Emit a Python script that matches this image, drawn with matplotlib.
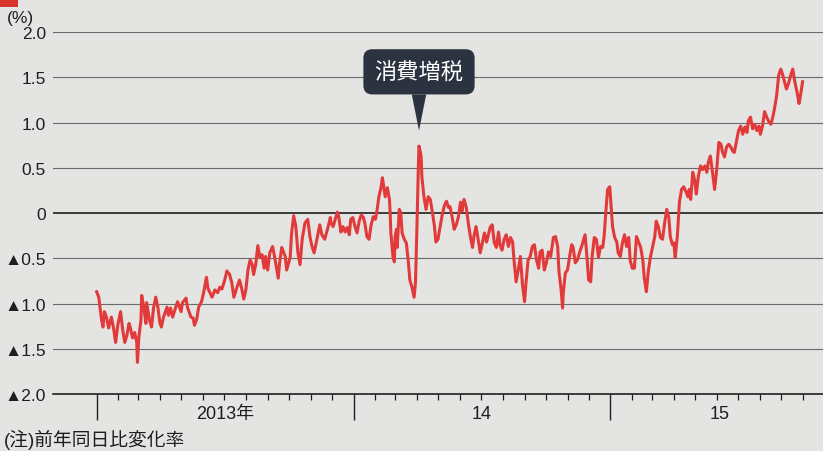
import numpy as np
import matplotlib
matplotlib.use('Agg')
from matplotlib import pyplot as plt
import matplotlib.dates as mdates
from matplotlib.patches import Rectangle
from matplotlib.ticker import FixedLocator

plt.rcParams['font.family'] = ['Liberation Sans', 'Noto Sans CJK JP', 'DejaVu Sans']
plt.rcParams['axes.unicode_minus'] = False

# 前年同日比変化率 (%), 2013-01-01 からの経過日数
start = np.datetime64('2013-01-01')
days = [
    0, 3, 7, 9, 11, 14, 17, 21, 24, 27, 30, 34, 37, 40, 43, 46, 48, 51, 54, 57,
    58, 60, 63, 64, 67, 70, 71, 75, 78, 81, 84, 87, 90, 92, 95, 100, 102, 105, 108, 112,
    115, 120, 122, 127, 129, 134, 137, 139, 142, 145, 149, 152, 156, 158, 161, 164, 168, 172, 175, 178,
    182, 185, 189, 192, 195, 199, 203, 206, 209, 212, 215, 218, 221, 223, 226, 229, 232, 235, 238, 240,
    243, 246, 250, 253, 258, 260, 263, 268, 270, 275, 277, 280, 283, 286, 289, 292, 296, 300, 303, 306,
    309, 313, 317, 320, 324, 329, 332, 333, 336, 339, 342, 344, 347, 350, 353, 356, 359, 361, 364, 367,
    370, 373, 376, 379, 381, 384, 387, 390, 393, 396, 398, 401, 404, 406, 408, 410, 413, 416, 417, 418,
    421, 423, 424, 426, 427, 430, 432, 434, 437, 440, 443, 445, 448, 451, 453, 455, 457, 458, 461, 462,
    465, 468, 471, 474, 477, 480, 482, 485, 488, 491, 494, 497, 500, 502, 505, 508, 511, 514, 517, 519,
    522, 525, 528, 531, 534, 536, 539, 542, 545, 548, 551, 554, 556, 559, 562, 565, 568, 571, 573, 576,
    579, 582, 585, 588, 591, 593, 596, 599, 602, 605, 608, 610, 613, 616, 619, 622, 625, 628, 630, 633,
    636, 639, 642, 645, 649, 652, 655, 657, 660, 662, 663, 666, 669, 672, 675, 677, 680, 683, 686, 689,
    692, 694, 697, 699, 702, 704, 707, 710, 713, 716, 719, 721, 724, 726, 729, 730, 733, 736, 739, 741,
    744, 747, 750, 753, 756, 758, 761, 764, 767, 770, 773, 776, 778, 781, 784, 787, 790, 793, 795, 798,
    801, 804, 807, 810, 813, 815, 818, 820, 822, 825, 828, 831, 834, 837, 840, 842, 844, 847, 850, 852,
    855, 858, 861, 864, 867, 869, 872, 875, 878, 881, 884, 887, 889, 892, 895, 898, 901, 904, 906, 909,
    912, 915, 918, 921, 924, 926, 929, 932, 935, 938, 941, 943, 946, 949, 952, 955, 958, 961, 963, 966,
    969, 972, 975, 978, 980, 983, 986, 989, 992, 995, 998, 1000, 1003,
]
values = [
    -0.87, -0.93, -1.18, -1.26, -1.09, -1.15, -1.27, -1.15, -1.27, -1.43, -1.24, -1.09, -1.29, -1.43, -1.35, -1.22, -1.27, -1.38, -1.32, -1.43,
    -1.65, -1.37, -1.18, -0.91, -1.04, -1.22, -0.99, -1.18, -1.26, -1.04, -0.93, -1.04, -1.22, -1.26, -1.15, -1.04, -1.13, -1.05, -1.15, -1.05,
    -0.98, -1.09, -0.99, -0.94, -1.04, -1.15, -1.16, -1.24, -1.18, -1.04, -0.98, -0.88, -0.71, -0.83, -0.88, -0.93, -0.85, -0.88, -0.82, -0.84,
    -0.74, -0.64, -0.68, -0.77, -0.93, -0.83, -0.74, -0.83, -0.95, -0.85, -0.63, -0.52, -0.57, -0.68, -0.57, -0.36, -0.49, -0.46, -0.61, -0.48,
    -0.63, -0.44, -0.37, -0.49, -0.72, -0.55, -0.38, -0.48, -0.63, -0.49, -0.22, -0.03, -0.15, -0.44, -0.57, -0.29, -0.11, -0.07, -0.26, -0.37,
    -0.44, -0.29, -0.13, -0.24, -0.29, -0.15, -0.05, -0.11, -0.15, -0.07, 0.01, -0.04, -0.21, -0.15, -0.21, -0.16, -0.24, -0.07, -0.05, -0.15,
    -0.22, -0.09, -0.02, -0.05, -0.11, -0.26, -0.29, -0.13, -0.04, -0.07, 0.01, 0.18, 0.28, 0.39, 0.29, 0.18, 0.28, 0.15, 0.01, -0.22,
    -0.48, -0.54, -0.26, -0.18, -0.38, 0.04, 0.01, -0.22, -0.29, -0.33, -0.55, -0.74, -0.82, -0.93, -0.77, -0.18, 0.48, 0.74, 0.63, 0.41,
    0.18, 0.04, 0.18, 0.15, 0.01, -0.15, -0.32, -0.29, -0.15, -0.02, 0.08, 0.13, 0.06, 0.07, -0.04, -0.18, -0.13, -0.04, 0.12, 0.02,
    0.15, 0.07, -0.11, -0.26, -0.38, -0.26, -0.15, -0.29, -0.44, -0.33, -0.22, -0.32, -0.26, -0.16, -0.13, -0.33, -0.38, -0.21, -0.35, -0.41,
    -0.29, -0.24, -0.37, -0.27, -0.32, -0.52, -0.76, -0.63, -0.48, -0.79, -0.98, -0.77, -0.52, -0.48, -0.37, -0.35, -0.52, -0.61, -0.43, -0.41,
    -0.63, -0.55, -0.43, -0.48, -0.27, -0.26, -0.37, -0.66, -0.85, -1.05, -0.88, -0.66, -0.63, -0.48, -0.35, -0.38, -0.55, -0.52, -0.44, -0.37,
    -0.29, -0.24, -0.52, -0.74, -0.76, -0.48, -0.27, -0.29, -0.49, -0.37, -0.38, -0.26, 0.07, 0.26, 0.29, 0.18, -0.15, -0.27, -0.32, -0.44,
    -0.48, -0.33, -0.24, -0.37, -0.27, -0.52, -0.61, -0.61, -0.26, -0.32, -0.38, -0.52, -0.71, -0.87, -0.63, -0.48, -0.37, -0.26, -0.09, -0.15,
    -0.27, -0.29, -0.11, 0.04, -0.05, -0.26, -0.35, -0.33, -0.49, -0.26, 0.12, 0.26, 0.29, 0.24, 0.18, 0.26, 0.15, 0.45, 0.35, 0.21,
    0.41, 0.52, 0.48, 0.52, 0.45, 0.56, 0.63, 0.45, 0.26, 0.48, 0.78, 0.76, 0.68, 0.62, 0.73, 0.76, 0.73, 0.68, 0.67, 0.79,
    0.91, 0.96, 0.87, 0.95, 0.89, 1.02, 1.06, 0.93, 0.98, 0.91, 0.96, 0.87, 0.96, 1.12, 1.06, 1.01, 0.98, 1.07, 1.15, 1.29,
    1.52, 1.59, 1.52, 1.43, 1.37, 1.43, 1.52, 1.59, 1.45, 1.34, 1.21, 1.30, 1.45,
]

y_ticks = [2.0, 1.5, 1.0, 0.5, 0, -0.5, -1.0, -1.5, -2.0]
y_labels = ['2.0', '1.5', '1.0', '0.5', '0', '▲0.5', '▲1.0', '▲1.5', '▲2.0']
year_labels = ['2013年', '14', '15']
year_label_dates = ['2013-07-02', '2014-07-02', '2015-06-05']
event_label = '消費増税'
event_day = 458
event_tip = 0.91
event_box_y = 1.56
note = '(注)前年同日比変化率'

red = '#e23a3a'
paper = '#e4e4e2'
navy = '#2c3340'

x = mdates.date2num(start + np.array(days).astype('timedelta64[D]'))
months = np.arange('2013-01', '2015-12', dtype='datetime64[M]').astype('datetime64[D]')
month_x = mdates.date2num(months)
year_x = [m for m, d in zip(month_x, months) if str(d).endswith('-01-01')]

fig = plt.figure(figsize=(8.23, 4.52), dpi=100, facecolor=paper)
ax = fig.add_axes([0.0644, 0.126, 0.9356, 0.801])
ax.set_facecolor(paper)

for y in y_ticks:
    if y in (0, -2.0):
        continue
    ax.axhline(y, color='#6b6b6b', lw=0.8, zorder=1)
ax.axhline(0, color='#1e1e1e', lw=1.2, zorder=1)

ax.plot(x, values, color=red, lw=2.2, solid_joinstyle='round', zorder=3)

ax.set_ylim(-2.0, 2.0)
ax.set_xlim(mdates.date2num(np.datetime64('2012-10-31')), mdates.date2num(np.datetime64('2015-10-30')))

for s in ['top', 'left', 'right']:
    ax.spines[s].set_visible(False)
ax.spines['bottom'].set_color('#1e1e1e')
ax.spines['bottom'].set_linewidth(1.2)

ax.set_yticks(y_ticks)
ax.set_yticklabels(y_labels)
ax.tick_params(axis='y', length=0, pad=5, labelsize=12.5, labelcolor='#1e1e1e')

ax.set_xticks(year_x)
ax.set_xticklabels([])
ax.xaxis.set_minor_locator(FixedLocator(month_x))
ax.tick_params(axis='x', which='major', length=19, width=1.0, color='#1e1e1e', direction='out')
ax.tick_params(axis='x', which='minor', length=4, width=0.9, color='#1e1e1e', direction='out')

for lab, d in zip(year_labels, year_label_dates):
    ax.text(mdates.date2num(np.datetime64(d)), -0.055, lab, transform=ax.get_xaxis_transform(),
            ha='center', va='center', fontsize=13, color='#1e1e1e')

ev_x = mdates.date2num(start + np.timedelta64(event_day, 'D'))
ax.annotate(event_label, xy=(ev_x, event_tip), xytext=(ev_x, event_box_y),
            ha='center', va='center', color='white', fontsize=16,
            family=['Noto Sans CJK JP'],
            bbox=dict(boxstyle='round,pad=0.5,rounding_size=0.4', fc=navy, ec='none'),
            arrowprops=dict(arrowstyle='wedge,tail_width=0.65,shrink_factor=0.5',
                            fc=navy, ec='none', shrinkA=0, shrinkB=0),
            zorder=5)

fig.text(0.008, 0.958, '(%)', fontsize=12.5, va='center', color='#1e1e1e')
fig.text(0.005, 0.027, note, fontsize=13.5, va='center', color='#1e1e1e')
fig.patches.append(Rectangle((0, 1 - 8 / 452), 18 / 823, 8 / 452, transform=fig.transFigure,
                             fc='#d9342b', ec='none'))

fig.savefig('out.png', dpi=100, facecolor=paper)
